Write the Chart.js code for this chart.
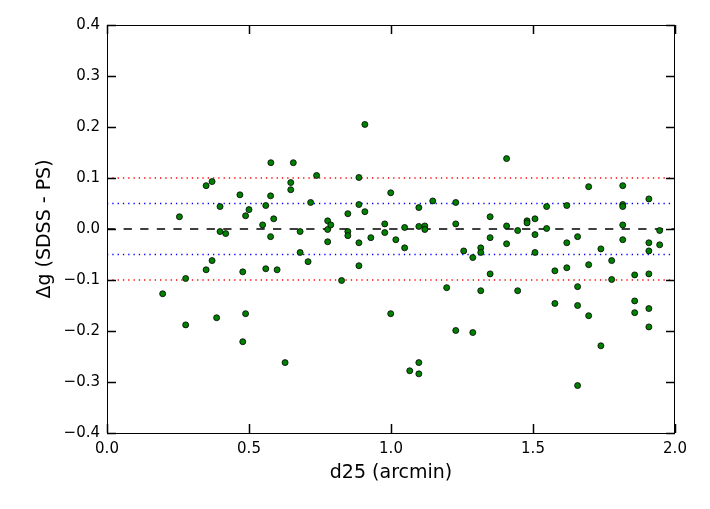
<!DOCTYPE html>
<html>
<head>
<meta charset="utf-8">
<title>Delta g vs d25</title>
<script src="https://cdn.jsdelivr.net/npm/chart.js@4.4.1/dist/chart.umd.min.js"></script>
<style>
    html, body { margin: 0; padding: 0; background: #fff; }
    #wrap { width: 710px; height: 509px; }
</style>
</head>
<body>
<div id="wrap"><canvas id="scatter" width="710" height="509"></canvas></div>
<script>
/* ---- data ---- */
const d25 = [
    0.196, 0.255, 0.277, 0.277, 0.349, 0.349, 0.370, 0.370, 0.386, 0.398,
    0.398, 0.418, 0.468, 0.478, 0.478, 0.488, 0.488, 0.500, 0.548, 0.559,
    0.559, 0.576, 0.577, 0.576, 0.587, 0.599, 0.627, 0.647, 0.647, 0.656,
    0.680, 0.680, 0.708, 0.717, 0.738, 0.777, 0.777, 0.777, 0.788, 0.826,
    0.848, 0.848, 0.848, 0.887, 0.887, 0.887, 0.887, 0.908, 0.908, 0.929,
    0.978, 0.978, 0.999, 0.999, 1.017, 1.048, 1.048, 1.066, 1.098, 1.098,
    1.098, 1.098, 1.119, 1.119, 1.147, 1.196, 1.228, 1.228, 1.228, 1.256,
    1.288, 1.288, 1.316, 1.316, 1.316, 1.349, 1.349, 1.349, 1.407, 1.407,
    1.407, 1.446, 1.446, 1.479, 1.479, 1.507, 1.507, 1.507, 1.548, 1.548,
    1.577, 1.577, 1.619, 1.619, 1.619, 1.657, 1.657, 1.657, 1.657, 1.696,
    1.696, 1.696, 1.739, 1.739, 1.777, 1.777, 1.816, 1.816, 1.816, 1.816,
    1.816, 1.858, 1.858, 1.858, 1.908, 1.908, 1.908, 1.908, 1.908, 1.908,
    1.946, 1.946
];
const deltaG = [
    -0.127, 0.024, -0.097, -0.188, 0.085, -0.080, 0.093, -0.062, -0.174, 0.044,
    -0.005, -0.009, 0.067, -0.084, -0.221, 0.026, -0.166, 0.038, 0.008, 0.046,
    -0.078, 0.065, 0.130, -0.015, 0.020, -0.080, -0.262, 0.091, 0.077, 0.130,
    -0.005, -0.046, -0.064, 0.052, 0.105, 0.016, -0.001, -0.025, 0.008, -0.101,
    0.030, -0.005, -0.013, 0.101, 0.048, -0.027, -0.072, 0.205, 0.034, -0.017,
    0.010, -0.007, 0.071, -0.166, -0.021, 0.003, -0.037, -0.278, 0.042, 0.005,
    -0.262, -0.284, 0.006, -0.001, 0.055, -0.115, 0.052, 0.010, -0.199, -0.043,
    -0.056, -0.203, -0.037, -0.046, -0.121, 0.024, -0.017, -0.088, 0.138, 0.006,
    -0.029, -0.003, -0.121, 0.016, 0.012, 0.020, -0.011, -0.046, 0.044, 0.001,
    -0.082, -0.146, 0.046, -0.027, -0.076, -0.015, -0.113, -0.150, -0.307, 0.083,
    -0.070, -0.170, -0.039, -0.229, -0.062, -0.099, 0.085, 0.048, 0.044, 0.008,
    -0.021, -0.090, -0.141, -0.164, 0.059, -0.027, -0.043, -0.088, -0.156, -0.192,
    -0.003, -0.031
];

// reference lines: level, colour, dash
const lineLevels = [0.1, -0.1, 0.05, -0.05, 0.0];
const lineColors = ['#ff0000', '#ff0000', '#0000ff', '#0000ff', '#000000'];
const lineDashes = [[1.3, 4], [1.3, 4], [1.3, 4], [1.3, 4], [8.3, 8.3]];

const xRange = [0, 2];
const yRange = [-0.4, 0.4];
const xTicks = [0.0, 0.5, 1.0, 1.5, 2.0];
const yTicks = [-0.4, -0.3, -0.2, -0.1, 0.0, 0.1, 0.2, 0.3, 0.4];

const FONT = 'DejaVu Sans';

function fmtTick(v) {
    const s = Math.abs(v).toFixed(1);
    return v < -1e-9 ? '\u2212' + s : s;
}

/* ---- frame + inward ticks on all four sides, matplotlib-style ---- */
const framePlugin = {
    id: 'frame',
    afterDatasetsDraw(chart) {
        const { ctx, chartArea: a, scales } = chart;
        const len = 9;
        ctx.save();
        ctx.strokeStyle = '#000';
        ctx.lineWidth = 1;
        ctx.strokeRect(a.left + 0.5, a.top + 0.5, a.right - a.left - 1, a.bottom - a.top);

        ctx.lineWidth = 1.5;
        ctx.beginPath();
        xTicks.forEach(v => {
            const px = Math.round(scales.x.getPixelForValue(v)) + 0.5;
            ctx.moveTo(px, a.bottom); ctx.lineTo(px, a.bottom - len);
            ctx.moveTo(px, a.top); ctx.lineTo(px, a.top + len);
        });
        yTicks.forEach(v => {
            const py = Math.round(scales.y.getPixelForValue(v)) + 0.5;
            ctx.moveTo(a.left, py); ctx.lineTo(a.left + len, py);
            ctx.moveTo(a.right, py); ctx.lineTo(a.right - len, py);
        });
        ctx.stroke();
        ctx.restore();
    }
};

const refLineSets = lineLevels.map((lvl, i) => ({
    type: 'line',
    data: [{ x: xRange[0], y: lvl }, { x: xRange[1], y: lvl }],
    borderColor: lineColors[i],
    borderWidth: 1.3,
    borderDash: lineDashes[i],
    pointRadius: 0,
    fill: false,
    order: 2
}));

new Chart(document.getElementById('scatter'), {
    type: 'scatter',
    data: {
        datasets: [{
            label: 'galaxies',
            data: d25.map((x, i) => ({ x: x, y: deltaG[i] })),
            backgroundColor: '#008000',
            borderColor: '#000000',
            borderWidth: 0.8,
            pointRadius: 3,
            order: 0
        }, ...refLineSets]
    },
    plugins: [framePlugin],
    options: {
        responsive: false,
        animation: false,
        devicePixelRatio: 1,
        layout: { padding: { left: 0, top: 25, right: 35, bottom: 0 } },
        plugins: {
            legend: { display: false },
            tooltip: { enabled: false }
        },
        scales: {
            x: {
                type: 'linear',
                min: xRange[0],
                max: xRange[1],
                afterBuildTicks: s => { s.ticks = xTicks.map(v => ({ value: v })); },
                afterFit: s => { s.height = 76; },
                ticks: {
                    callback: fmtTick,
                    color: '#000',
                    padding: 7,
                    maxRotation: 0,
                    autoSkip: false,
                    font: { family: FONT, size: 15 }
                },
                grid: { display: false, drawTicks: false },
                border: { display: false },
                title: {
                    display: true,
                    text: 'd25 (arcmin)',
                    color: '#000',
                    font: { family: FONT, size: 19 },
                    padding: { top: 0, bottom: 25 }
                }
            },
            y: {
                type: 'linear',
                min: yRange[0],
                max: yRange[1],
                afterBuildTicks: s => { s.ticks = yTicks.map(v => ({ value: v })); },
                afterFit: s => { s.width = 107; },
                ticks: {
                    callback: fmtTick,
                    color: '#000',
                    padding: 7,
                    autoSkip: false,
                    font: { family: FONT, size: 15 }
                },
                grid: { display: false, drawTicks: false },
                border: { display: false },
                title: {
                    display: true,
                    text: '\u0394g (SDSS - PS)',
                    color: '#000',
                    font: { family: FONT, size: 19 },
                    padding: { top: 34, bottom: 0 }
                }
            }
        }
    }
});
</script>
</body>
</html>
